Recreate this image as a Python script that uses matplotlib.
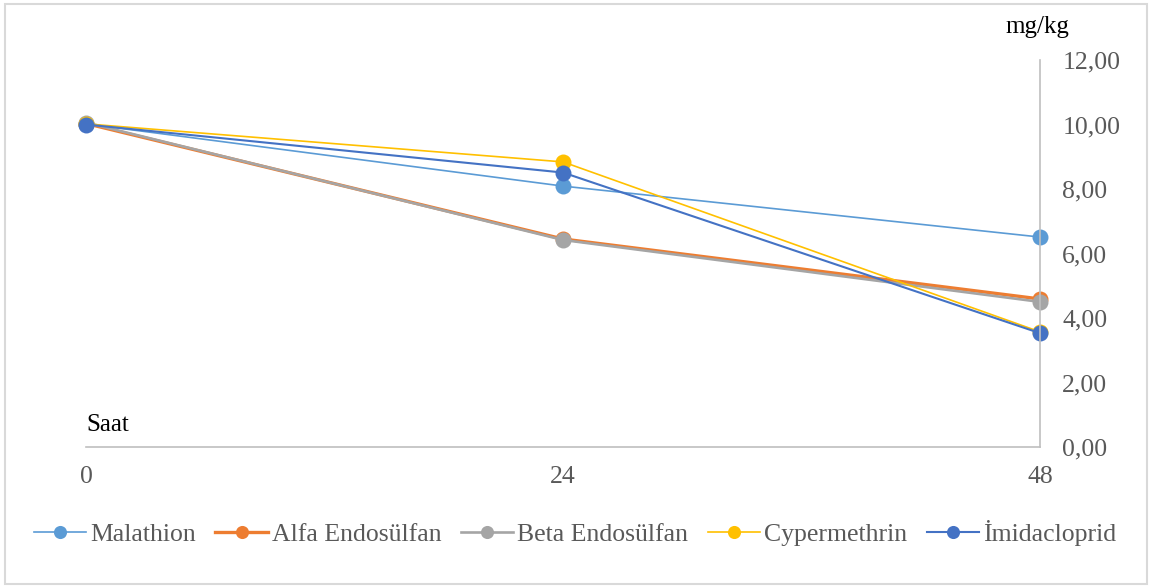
import matplotlib
matplotlib.use("Agg")
import matplotlib.pyplot as plt
from matplotlib.patches import Rectangle
from matplotlib.ticker import FuncFormatter

plt.rcParams['font.family'] = ['Liberation Serif', 'DejaVu Serif']

hours = ["0", "24", "48"]
malathion = [10.02, 8.09, 6.51]
alfa_endosulfan = [10.03, 6.45, 4.59]
beta_endosulfan = [10.06, 6.42, 4.50]
cypermethrin = [10.02, 8.84, 3.57]
imidacloprid = [10.00, 8.51, 3.53]

series = [
    ("Malathion", malathion, "#5B9BD5", 1.2),
    ("Alfa Endosülfan", alfa_endosulfan, "#ED7D31", 2.4),
    ("Beta Endosülfan", beta_endosulfan, "#A5A5A5", 1.9),
    ("Cypermethrin", cypermethrin, "#FFC000", 1.2),
    ("İmidacloprid", imidacloprid, "#4472C4", 1.5),
]

W, H = 1152, 588
fig = plt.figure(figsize=(W / 100, H / 100), dpi=100)
ax = fig.add_axes([86 / W, 1 - 447 / H, (1040 - 86) / W, (447 - 60) / H])

x = list(range(len(hours)))
for name, vals, color, lw in series:
    ax.plot(x, vals, color=color, lw=lw, marker='o', markersize=11.5,
            markeredgewidth=0, label=name, clip_on=False)

ax.set_xlim(0, len(hours) - 1)
ax.set_ylim(0, 12)
ax.set_xticks(x)
ax.set_xticklabels(hours)
ax.set_yticks([0, 2, 4, 6, 8, 10, 12])
ax.yaxis.set_major_formatter(FuncFormatter(lambda v, p: f"{v:.2f}".replace('.', ',')))
ax.yaxis.tick_right()

for s in ['top', 'left']:
    ax.spines[s].set_visible(False)
for s in ['right', 'bottom']:
    ax.spines[s].set_color('#BFBFBF')
    ax.spines[s].set_linewidth(1.2)

ax.tick_params(axis='y', length=0, pad=16, labelsize=18.5, labelcolor='#595959')
ax.tick_params(axis='x', length=0, pad=14, labelsize=18.5, labelcolor='#595959')

fig.text(1037 / W, 1 - 27 / H, "mg/kg", ha='center', va='center', fontsize=18, color='black')
fig.text(86 / W, 1 - 425 / H, "Saat", ha='left', va='center', fontsize=18, color='black')

fig.legend(loc='center', bbox_to_anchor=(575 / W, 1 - 533 / H), ncol=5, frameon=False,
           fontsize=18.5, labelcolor='#595959', handlelength=2.05, handletextpad=0.15,
           columnspacing=0.75, markerscale=0.82)

fig.patches.append(Rectangle((5 / W, 4 / H), (1147 - 5) / W, (584 - 4) / H,
                             transform=fig.transFigure, fill=False,
                             edgecolor='#D9D9D9', lw=1.5))

fig.savefig("out.png", dpi=100, facecolor='white')
